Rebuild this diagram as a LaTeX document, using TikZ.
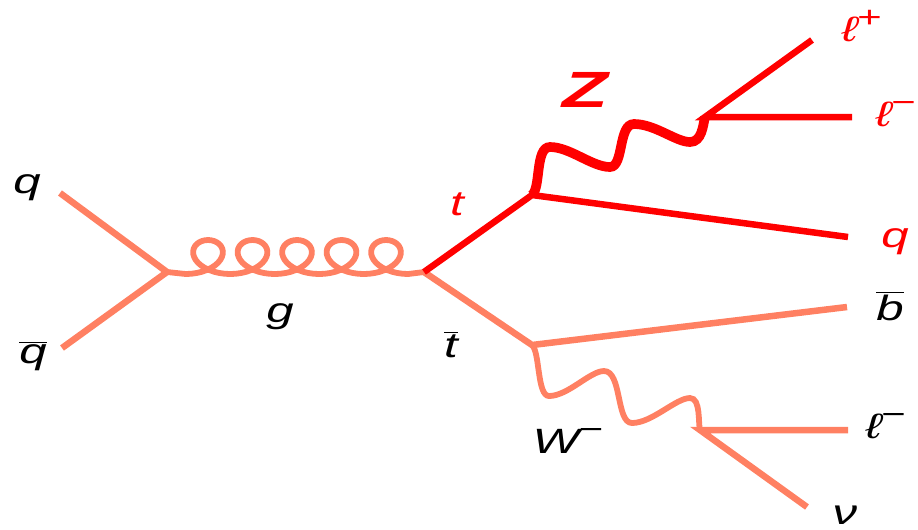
\documentclass[tikz,border=0pt]{standalone}
\usepackage{fontspec}
\setmainfont{Liberation Sans}
\definecolor{salmon}{RGB}{255,128,98}
\definecolor{topred}{RGB}{255,0,0}
\newcommand{\barred}[1]{$\overline{\mbox{#1}}$}
\newcommand{\chg}[1]{\raisebox{0.38em}{\fontsize{17}{20}\selectfont\upshape#1}}

\begin{document}
\begin{tikzpicture}[x=0.02cm,y=-0.02cm,
  fermion/.style={draw=salmon,line width=3.7pt},
  topline/.style={draw=topred,line width=3.7pt},
  gluon/.style={draw=salmon,line width=3.3pt},
  wboson/.style={draw=salmon,line width=3.3pt},
  zboson/.style={draw=topred,line width=5.5pt},
  lbl/.style={inner sep=0pt,xscale=1.4,font=\fontsize{20}{24}\selectfont\itshape},
  redlbl/.style={lbl,text=topred}]
\useasboundingbox (0,0) rectangle (918,529);
\coordinate (qin) at (60,193);
\coordinate (qbin) at (62,348);
\coordinate (vg) at (167,272);
\coordinate (vtt) at (424,272);
\coordinate (vt) at (532,195);
\coordinate (vtb) at (532,345);
\coordinate (vz) at (705,117);
\coordinate (vw) at (700,430);
\coordinate (lpout) at (812,40);
\coordinate (lmout) at (852,117);
\coordinate (qout) at (848,237);
\coordinate (bout) at (847,307);
\coordinate (lwout) at (848,430);
\coordinate (nuout) at (807,507);
\draw[fermion] (qin) -- (vg) -- (qbin);
\draw[gluon] (vg) -- plot[domain=-180:1620,samples=181] ({208+44.5*(\x/360)-25*sin(\x)},{257-17*cos(\x)}) -- (vtt);
\draw[fermion] (vtt) -- (vtb) -- (bout);
\draw[wboson] (vtb) .. controls (540,352) and (537,396) .. (549,396)
  .. controls (568,396) and (590,371) .. (604,371)
  .. controls (622,371) and (616,423) .. (632,423)
  .. controls (652,423) and (676,398) .. (690,398)
  .. controls (701,398) and (698,424) .. (vw);
\draw[fermion] (lwout) -- (vw) -- (nuout);
\draw[topline] (vtt) -- (vt) -- (qout);
\draw[zboson] (vt) .. controls (541,188) and (535,147) .. (550,147)
  .. controls (570,147) and (592,167) .. (610,167)
  .. controls (624,167) and (618,124) .. (634,124)
  .. controls (655,124) and (676,142) .. (690,142)
  .. controls (702,142) and (703,125) .. (vz);
\draw[topline] (lpout) -- (vz) -- (lmout);
\node[lbl] (qlab) at (27,188) {q};
\node[lbl] (qblab) at (33,356) {\barred{q}};
\node[lbl] (glab) at (280,317) {g};
\node[lbl] (tblab) at (451,345) {\barred{t}};
\node[lbl,anchor=west] (wlab) at (532,441) {W\chg{−}};
\node[lbl] (bblab) at (890,306) {\barred{b}};
\node[lbl,anchor=west] (lwlab) at (865,426) {ℓ\chg{−}};
\node[lbl] (nulab) at (845,515) {ν};
\node[redlbl] (tlab) at (457,204) {t};
\node[redlbl,font=\fontsize{29}{33}\selectfont\bfseries\itshape,xscale=1.05] (zlab) at (585,90) {Z};
\node[redlbl,anchor=west] (lplab) at (841,26) {ℓ\chg{+}};
\node[redlbl,anchor=west] (lmlab) at (875,114) {ℓ\chg{−}};
\node[redlbl] (qolab) at (895,242) {q};
\end{tikzpicture}
\end{document}
